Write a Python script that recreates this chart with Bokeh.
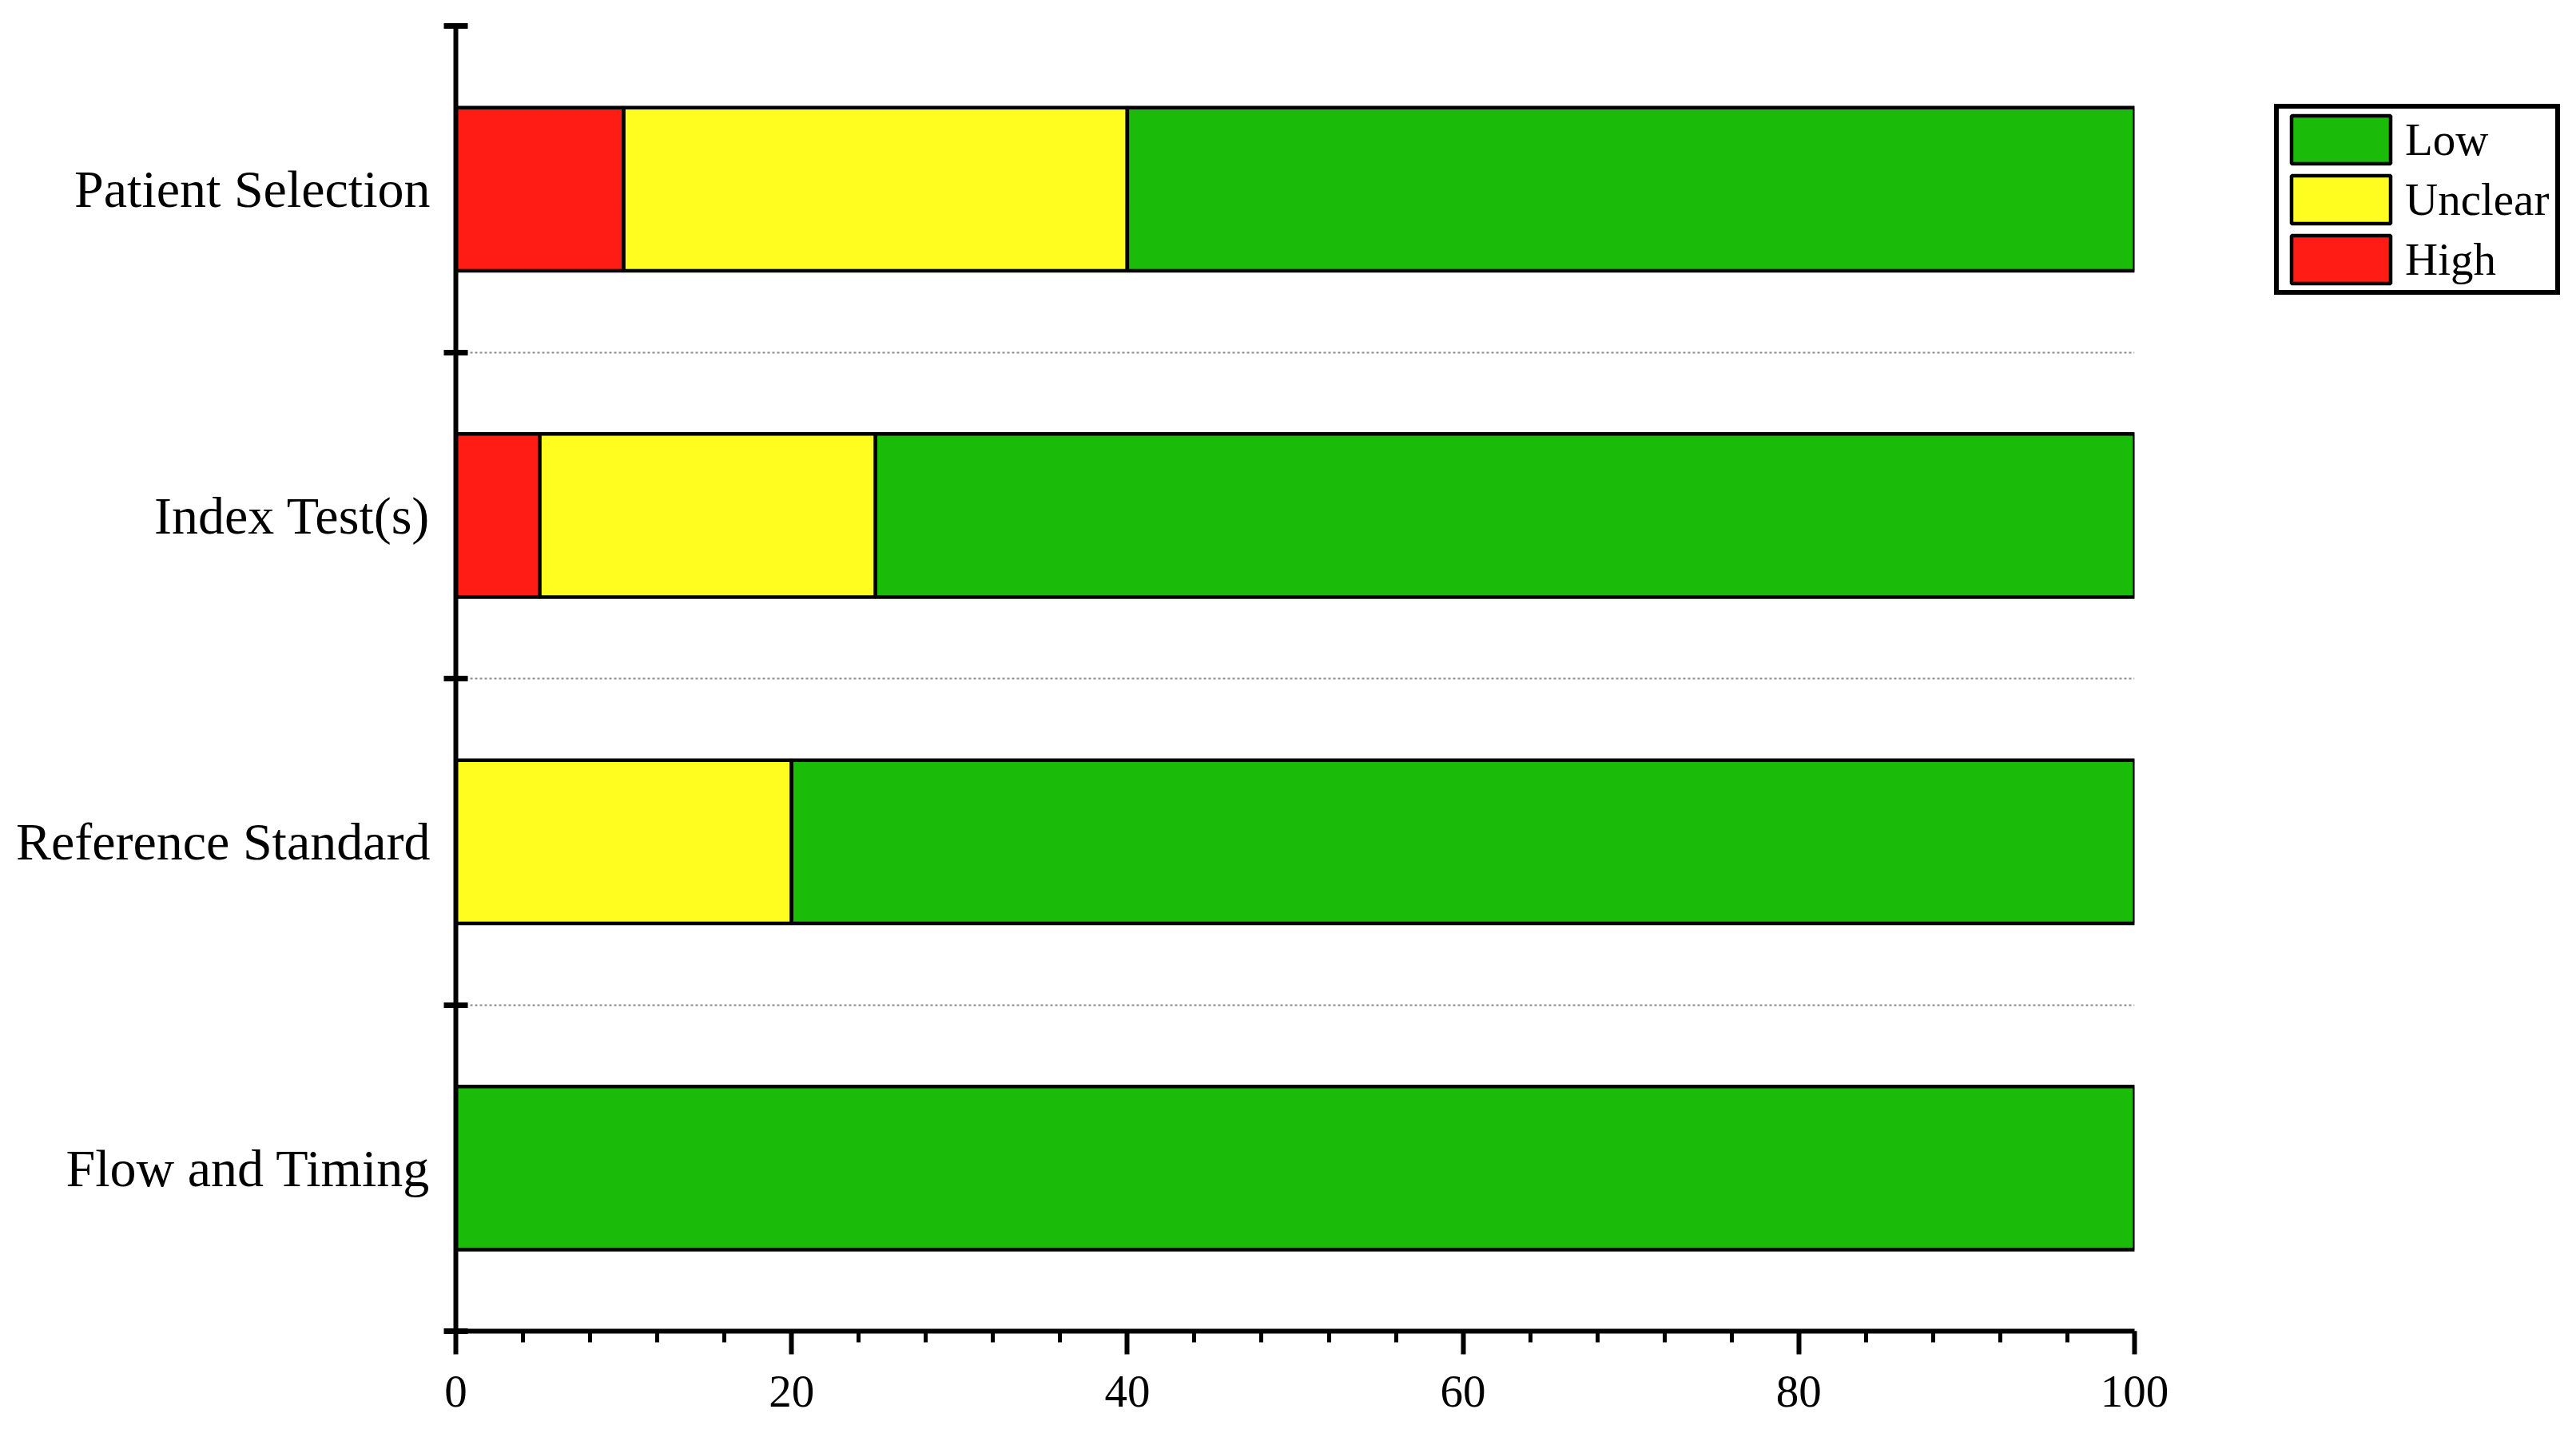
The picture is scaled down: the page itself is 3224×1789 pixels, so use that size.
from bokeh.plotting import figure
from bokeh.models import ColumnDataSource, FixedTicker, Legend, LegendItem
from bokeh.embed import file_html
from bokeh.resources import INLINE

# ---- data ----
categories = ["Patient Selection", "Index Test(s)", "Reference Standard", "Flow and Timing"]
high = [10, 5, 0, 0]
unclear = [30, 20, 20, 0]
low = [60, 75, 80, 100]
x_ticks = [0, 20, 40, 60, 80, 100]
x_minor = list(range(0, 101, 4))

n = len(categories)
ypos = [n - i - 0.5 for i in range(n)]  # top to bottom
source = ColumnDataSource(dict(y=ypos, High=high, Unclear=unclear, Low=low, cat=categories))

FONT = "Liberation Serif"
RED, YEL, GRN = "#FF1C14", "#FFFC1F", "#1BBB09"

p = figure(
    frame_width=2101, frame_height=1634,
    width=3208, height=1783,
    min_border_left=570, min_border_right=537, min_border_top=32, min_border_bottom=117,
    x_range=(0, 100), y_range=(0, n),
    output_backend="svg", toolbar_location=None,
    background_fill_color="white", border_fill_color="white",
)
p.outline_line_color = None

rs = p.hbar_stack(["High", "Unclear", "Low"], y="y", height=0.5, source=source,
                  fill_color=[RED, YEL, GRN], line_color="black", line_width=4.5)

# x axis
xa = p.xaxis[0]
xa.ticker = FixedTicker(ticks=x_ticks, minor_ticks=x_minor)
xa.axis_line_width = 6
xa.major_tick_line_width = 6
xa.minor_tick_line_width = 5
xa.major_tick_in = 0
xa.major_tick_out = 29
xa.minor_tick_in = 0
xa.minor_tick_out = 14
xa.major_label_text_font = FONT
xa.major_label_text_font_size = "57px"
xa.major_label_text_color = "black"
xa.major_label_standoff = 27

# y axis
ya = p.yaxis[0]
ya.ticker = FixedTicker(ticks=ypos, minor_ticks=list(range(0, n + 1)))
ya.major_label_overrides = {y: c for y, c in zip(ypos, categories)}
ya.axis_line_width = 6
ya.major_tick_line_color = None
ya.major_tick_in = 0
ya.major_tick_out = 0
ya.minor_tick_line_width = 7
ya.minor_tick_in = 15
ya.minor_tick_out = 15
ya.major_label_text_font = FONT
ya.major_label_text_font_size = "66px"
ya.major_label_text_color = "black"
ya.major_label_standoff = 17

# grids
p.xgrid.grid_line_color = None
p.ygrid.ticker = FixedTicker(ticks=list(range(1, n)))
p.ygrid.grid_line_color = "#8a8a8a"
p.ygrid.grid_line_width = 2
p.ygrid.grid_line_dash = "3 3"

legend = Legend(
    items=[LegendItem(label="Low", renderers=[rs[2]]),
           LegendItem(label="Unclear", renderers=[rs[1]]),
           LegendItem(label="High", renderers=[rs[0]])],
    location=(175, 1297),
    border_line_color="black", border_line_width=6, border_line_alpha=1.0,
    background_fill_color="white", background_fill_alpha=1.0,
    label_text_font=FONT, label_text_font_size="57px", label_text_color="black",
    glyph_width=155, glyph_height=75, label_height=75,
    spacing=0, padding=(0, 8, 1, 1), label_standoff=3, margin=0,
)
p.add_layout(legend, "right")

open("out.html", "w").write(file_html(p, INLINE))
